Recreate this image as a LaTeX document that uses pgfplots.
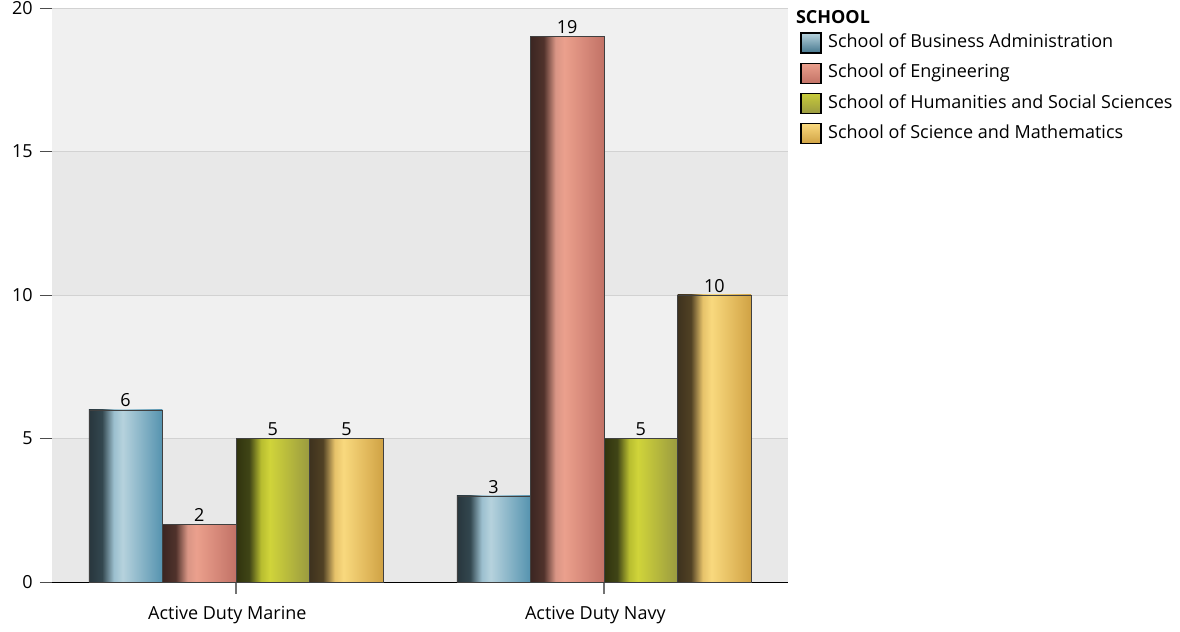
\documentclass[border=0pt]{standalone}
\usepackage{pgfplots}
\pgfplotsset{compat=1.18}
\usepackage{fontspec}
\setmainfont{Open Sans}
\definecolor{bandA}{HTML}{E8E8E8}
\definecolor{bandB}{HTML}{F0F0F0}
\definecolor{gridc}{HTML}{D2D2D2}
\definecolor{bA}{HTML}{28363D}\definecolor{bB}{HTML}{33474F}\definecolor{bC}{HTML}{9CC0CF}\definecolor{bD}{HTML}{B6D2DD}\definecolor{bE}{HTML}{5593AF}
\definecolor{rA}{HTML}{3B2622}\definecolor{rB}{HTML}{50322B}\definecolor{rC}{HTML}{D99585}\definecolor{rD}{HTML}{EBA08D}\definecolor{rE}{HTML}{C27266}
\definecolor{oA}{HTML}{30330E}\definecolor{oB}{HTML}{404516}\definecolor{oC}{HTML}{B8BD30}\definecolor{oD}{HTML}{D0D43A}\definecolor{oE}{HTML}{9A9A40}
\definecolor{gA}{HTML}{3E321E}\definecolor{gB}{HTML}{514124}\definecolor{gC}{HTML}{E6C26A}\definecolor{gD}{HTML}{F9D97E}\definecolor{gE}{HTML}{D0A244}
\pgfdeclarehorizontalshading{shB}{100bp}{color(0bp)=(bA); color(25bp)=(bA); color(34bp)=(bB); color(42bp)=(bC); color(48bp)=(bD); color(75bp)=(bE); color(100bp)=(bE)}
\pgfdeclarehorizontalshading{shR}{100bp}{color(0bp)=(rA); color(25bp)=(rA); color(34bp)=(rB); color(42bp)=(rC); color(48bp)=(rD); color(75bp)=(rE); color(100bp)=(rE)}
\pgfdeclarehorizontalshading{shO}{100bp}{color(0bp)=(oA); color(25bp)=(oA); color(34bp)=(oB); color(42bp)=(oC); color(48bp)=(oD); color(75bp)=(oE); color(100bp)=(oE)}
\pgfdeclarehorizontalshading{shG}{100bp}{color(0bp)=(gA); color(25bp)=(gA); color(34bp)=(gB); color(42bp)=(gC); color(48bp)=(gD); color(75bp)=(gE); color(100bp)=(gE)}
\pgfplotsset{
  barB/.style={draw=black!75, line width=0.4pt, shading=shB, bar shift=-0.3,
    legend image code/.code={\draw[black, line width=1.1pt, top color=bD, bottom color=bE!80!black] (0pt,-7.5pt) rectangle (15pt,7.5pt);}},
  barR/.style={draw=black!75, line width=0.4pt, shading=shR, bar shift=-0.1,
    legend image code/.code={\draw[black, line width=1.1pt, top color=rD, bottom color=rE] (0pt,-7.5pt) rectangle (15pt,7.5pt);}},
  barO/.style={draw=black!75, line width=0.4pt, shading=shO, bar shift=0.1,
    legend image code/.code={\draw[black, line width=1.1pt, top color=oD!85!oE, bottom color=oE] (0pt,-7.5pt) rectangle (15pt,7.5pt);}},
  barG/.style={draw=black!75, line width=0.4pt, shading=shG, bar shift=0.3,
    legend image code/.code={\draw[black, line width=1.1pt, top color=gD, bottom color=gE] (0pt,-7.5pt) rectangle (15pt,7.5pt);}},
}
\begin{document}
\begin{tikzpicture}
\path[use as bounding box] (0,0) rectangle (885pt,473.25pt);
\begin{axis}[
  at={(39pt,36.75pt)}, anchor=south west,
  scale only axis, width=552pt, height=430.5pt,
  clip=false,
  xmin=-0.5, xmax=1.5, ymin=0, ymax=20,
  ybar=0pt, bar width=0.2,
  /pgf/number format/assume math mode=true,
  xtick={0,1}, xticklabels={Active Duty Marine, Active Duty Navy},
  ytick={0,5,10,15,20},
  axis x line*=bottom, axis y line*=left,
  x axis line style={black, -}, y axis line style={black!55, -},
  tick align=outside, major tick length=9pt,
  xtick style={black!55, line width=0.8pt}, ytick style={black!70, line width=0.6pt},
  tick label style={font=\fontsize{13.5}{15}\selectfont},
  xticklabel style={yshift=-6pt, xshift=-6.5pt},
  yticklabel style={xshift=-2pt},
  nodes near coords, every node near coord/.append style={font=\fontsize{13.5}{15}\selectfont, yshift=-1.5pt},
  legend style={at={(1.016,0.958)}, anchor=north west, draw=none, fill=none,
    font=\fontsize{13.5}{15}\selectfont, row sep=6.5pt, column sep=3.5pt, inner sep=0pt,
    nodes={inner sep=1.5pt, anchor=west, text height=10pt, text depth=3pt}},
  legend cell align=left,
]
\fill[bandA] (axis cs:-0.5,0) rectangle (axis cs:1.5,5);
\fill[bandB] (axis cs:-0.5,5) rectangle (axis cs:1.5,10);
\fill[bandA] (axis cs:-0.5,10) rectangle (axis cs:1.5,15);
\fill[bandB] (axis cs:-0.5,15) rectangle (axis cs:1.5,20);
\draw[gridc, line width=0.6pt] (axis cs:-0.5,5) -- (axis cs:1.5,5);
\draw[gridc, line width=0.6pt] (axis cs:-0.5,10) -- (axis cs:1.5,10);
\draw[gridc, line width=0.6pt] (axis cs:-0.5,15) -- (axis cs:1.5,15);
\draw[gridc, line width=0.6pt] (axis cs:-0.5,20) -- (axis cs:1.5,20);
% Active Duty Marine (x=0)
\addplot[barB] coordinates {(0,6)};
\addplot[barR] coordinates {(0,2)};
\addplot[barO] coordinates {(0,5)};
\addplot[barG] coordinates {(0,5)};
% Active Duty Navy (x=1)
\addplot[barB, forget plot] coordinates {(1,3)};
\addplot[barR, forget plot] coordinates {(1,19)};
\addplot[barO, forget plot] coordinates {(1,5)};
\addplot[barG, forget plot] coordinates {(1,10)};
\legend{School of Business Administration, School of Engineering, School of Humanities and Social Sciences, School of Science and Mathematics}
\node[anchor=north west, inner sep=0pt, font=\fontsize{13.5}{15}\selectfont\bfseries] at (rel axis cs:1.0105,0.996) {SCHOOL};
\end{axis}
\end{tikzpicture}
\end{document}
